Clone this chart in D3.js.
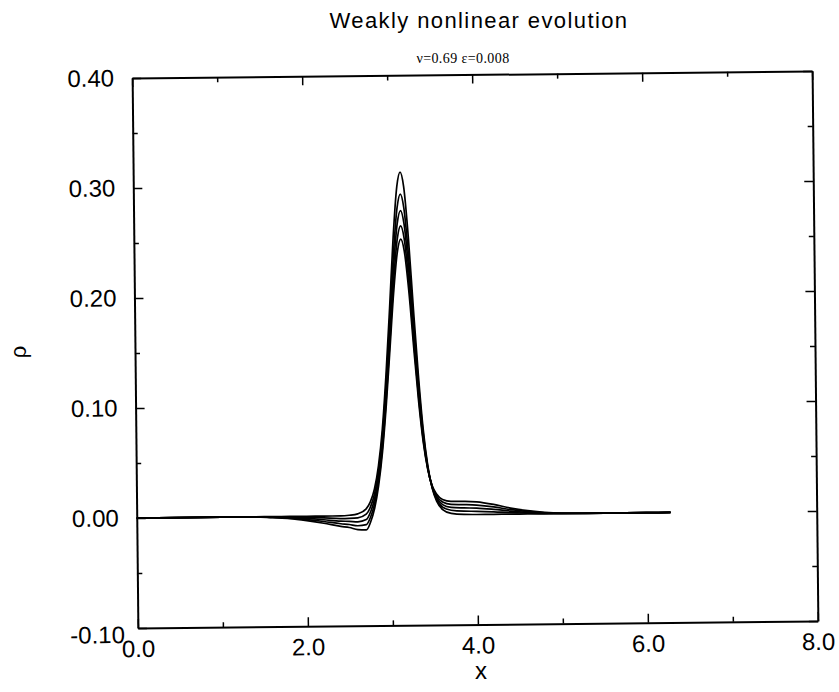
<!DOCTYPE html>
<html>
<head>
<meta charset="utf-8">
<script src="https://cdn.jsdelivr.net/npm/d3@7"></script>
<style>
  body { margin: 0; background: #fff; }
  svg { display: block; }
</style>
</head>
<body>
<svg width="839" height="692"></svg>
<script>
var xs = [0, 0.5, 1.0, 1.4, 1.6, 1.8, 2.0, 2.2, 2.4, 2.5, 2.6, 2.7, 2.75, 2.8, 2.85, 2.9, 2.95, 3.0, 3.05, 3.1,
          3.14, 3.18, 3.23, 3.28, 3.33, 3.38, 3.43, 3.48, 3.53, 3.6, 3.7, 3.85, 4.0, 4.2, 4.4, 4.6, 4.8, 5.0, 5.5, 6.0, 6.28];

// density profiles rho(x), tallest peak first
var rho1 = [0, 0, 0, 0, 0, 0, 0, 0, 0, 0.0005, 0.0017, 0.0062, 0.0125, 0.0243, 0.0452, 0.0786, 0.128, 0.188, 0.252, 0.299,
            0.312, 0.299, 0.252, 0.188, 0.128, 0.0786, 0.0452, 0.0243, 0.0125, 0.0048, 0.0013, 0.0002, 0, 0, 0, 0, 0, 0, 0, 0, 0];
var rho2 = [0, 0, 0, 0, -0.0003, -0.0005, -0.001, -0.0016, -0.0024, -0.0023, -0.0019, 0.0013, 0.0077, 0.0196, 0.0401, 0.0724, 0.1192, 0.1764, 0.2356, 0.2794,
            0.292, 0.2794, 0.2356, 0.1764, 0.12, 0.0744, 0.0436, 0.0246, 0.014, 0.007, 0.0041, 0.0031, 0.0029, 0.0023, 0.0014, 0.0008, 0.0003, 0.0001, 0, 0, 0];
var rho3 = [0, 0, 0, 0, -0.0005, -0.001, -0.002, -0.0033, -0.0048, -0.005, -0.0055, -0.0035, 0.0031, 0.0151, 0.0357, 0.0673, 0.1126, 0.1673, 0.2235, 0.2651,
            0.277, 0.2651, 0.2235, 0.1673, 0.1141, 0.0713, 0.0427, 0.0251, 0.0156, 0.0093, 0.0067, 0.0061, 0.0058, 0.0045, 0.0028, 0.0015, 0.0006, 0.0002, 0, 0, 0];
var rho4 = [0, 0, 0, 0, -0.0008, -0.0015, -0.003, -0.0049, -0.0071, -0.0079, -0.0091, -0.0082, -0.0015, 0.0108, 0.0314, 0.0626, 0.1063, 0.1589, 0.2122, 0.2517,
            0.263, 0.2517, 0.2122, 0.1589, 0.1086, 0.0686, 0.0419, 0.0258, 0.0173, 0.0116, 0.0094, 0.0091, 0.0086, 0.0068, 0.0041, 0.0023, 0.0009, 0.0003, 0, 0, 0];
var rho5 = [0, 0, 0, 0, -0.001, -0.002, -0.004, -0.0065, -0.0095, -0.0106, -0.0126, -0.013, -0.006, 0.0066, 0.0274, 0.0583, 0.1009, 0.1516, 0.2026, 0.2402,
            0.251, 0.2402, 0.2026, 0.1516, 0.1039, 0.0663, 0.0414, 0.0266, 0.019, 0.0139, 0.0121, 0.0121, 0.0115, 0.009, 0.0055, 0.003, 0.0012, 0.0004, 0, 0, 0];

var xTicks = [0, 2, 4, 6, 8];
var xMinor = [1, 3, 5, 7];
var yTicks = [-0.1, 0, 0.1, 0.2, 0.3, 0.4];
var yMinor = [-0.05, 0.05, 0.15, 0.25, 0.35];

var series = [rho1, rho2, rho3, rho4, rho5];

var svg = d3.select("svg");
var font = "Liberation Sans, Arial, Helvetica, sans-serif";

var plotLeft = 135, plotRight = 815, plotTop = 74.5, plotBottom = 624.5;

var x = d3.scaleLinear().domain([0, 8]).range([plotLeft, plotRight]);
var y = d3.scaleLinear().domain([-0.1, 0.4]).range([plotBottom, plotTop]);

// the scanned figure is tilted slightly
var plot = svg.append("g")
    .attr("transform", "rotate(-0.6," + (plotLeft + plotRight) / 2 + "," + (plotTop + plotBottom) / 2 + ")");

function styleAxis(g) {
    g.attr("font-family", font).attr("font-size", 24);
    g.select(".domain").attr("stroke-width", 2);
    g.selectAll(".tick line").attr("stroke-width", 1.5);
    g.selectAll(".tick text").attr("fill", "#000");
}

// major ticks with labels
var yAxisG = plot.append("g")
    .attr("transform", "translate(" + plotLeft + ",0)")
    .call(d3.axisLeft(y).tickValues(yTicks).tickSize(-9).tickSizeOuter(0).tickPadding(18)
        .tickFormat(function (d) { return d.toFixed(2); }))
    .call(styleAxis);

// the lowest label sits a little lower and to the right in the original
yAxisG.selectAll(".tick text")
    .filter(function (d) { return d === -0.1; })
    .attr("x", -13).attr("dy", "0.6em");

plot.append("g")
    .attr("transform", "translate(0," + plotBottom + ")")
    .call(d3.axisBottom(x).tickValues(xTicks).tickSize(-9).tickSizeOuter(0).tickPadding(12)
        .tickFormat(function (d) { return d.toFixed(1); }))
    .call(styleAxis);

plot.append("g")
    .attr("transform", "translate(" + plotRight + ",0)")
    .call(d3.axisRight(y).tickValues(yTicks).tickSize(-9).tickSizeOuter(0).tickFormat(""))
    .call(styleAxis);

plot.append("g")
    .attr("transform", "translate(0," + plotTop + ")")
    .call(d3.axisTop(x).tickValues(xTicks).tickSize(-9).tickSizeOuter(0).tickFormat(""))
    .call(styleAxis);

// minor ticks
[[d3.axisLeft(y).tickValues(yMinor), "translate(" + plotLeft + ",0)"],
 [d3.axisRight(y).tickValues(yMinor), "translate(" + plotRight + ",0)"],
 [d3.axisBottom(x).tickValues(xMinor), "translate(0," + plotBottom + ")"],
 [d3.axisTop(x).tickValues(xMinor), "translate(0," + plotTop + ")"]].forEach(function (a) {
    var g = plot.append("g").attr("transform", a[1])
        .call(a[0].tickSize(-5).tickSizeOuter(0).tickFormat(""));
    g.select(".domain").remove();
    g.selectAll(".tick line").attr("stroke-width", 1.5);
});

var line = d3.line()
    .x(function (d, i) { return x(xs[i]); })
    .y(function (d) { return y(d); })
    .curve(d3.curveMonotoneX);

plot.append("g").attr("class", "profiles")
    .selectAll("path")
    .data(series).enter()
    .append("path")
    .attr("d", line)
    .attr("fill", "none")
    .attr("stroke", "#000")
    .attr("stroke-width", 1.7);

// titles and axis labels
svg.append("text")
    .attr("x", 479).attr("y", 28)
    .attr("text-anchor", "middle")
    .attr("font-family", font).attr("font-size", 22)
    .attr("letter-spacing", 1.4)
    .text("Weakly nonlinear evolution");

svg.append("text")
    .attr("x", 463).attr("y", 63)
    .attr("text-anchor", "middle")
    .attr("font-family", "Liberation Serif, Times New Roman, serif").attr("font-size", 14)
    .attr("letter-spacing", 0.4)
    .text("ν=0.69  ε=0.008");

svg.append("text")
    .attr("x", 481).attr("y", 679)
    .attr("text-anchor", "middle")
    .attr("font-family", font).attr("font-size", 24)
    .text("x");

svg.append("text")
    .attr("transform", "translate(26,352) rotate(-90)")
    .attr("text-anchor", "middle")
    .attr("font-family", font).attr("font-size", 22)
    .text("ρ");
</script>
</body>
</html>
